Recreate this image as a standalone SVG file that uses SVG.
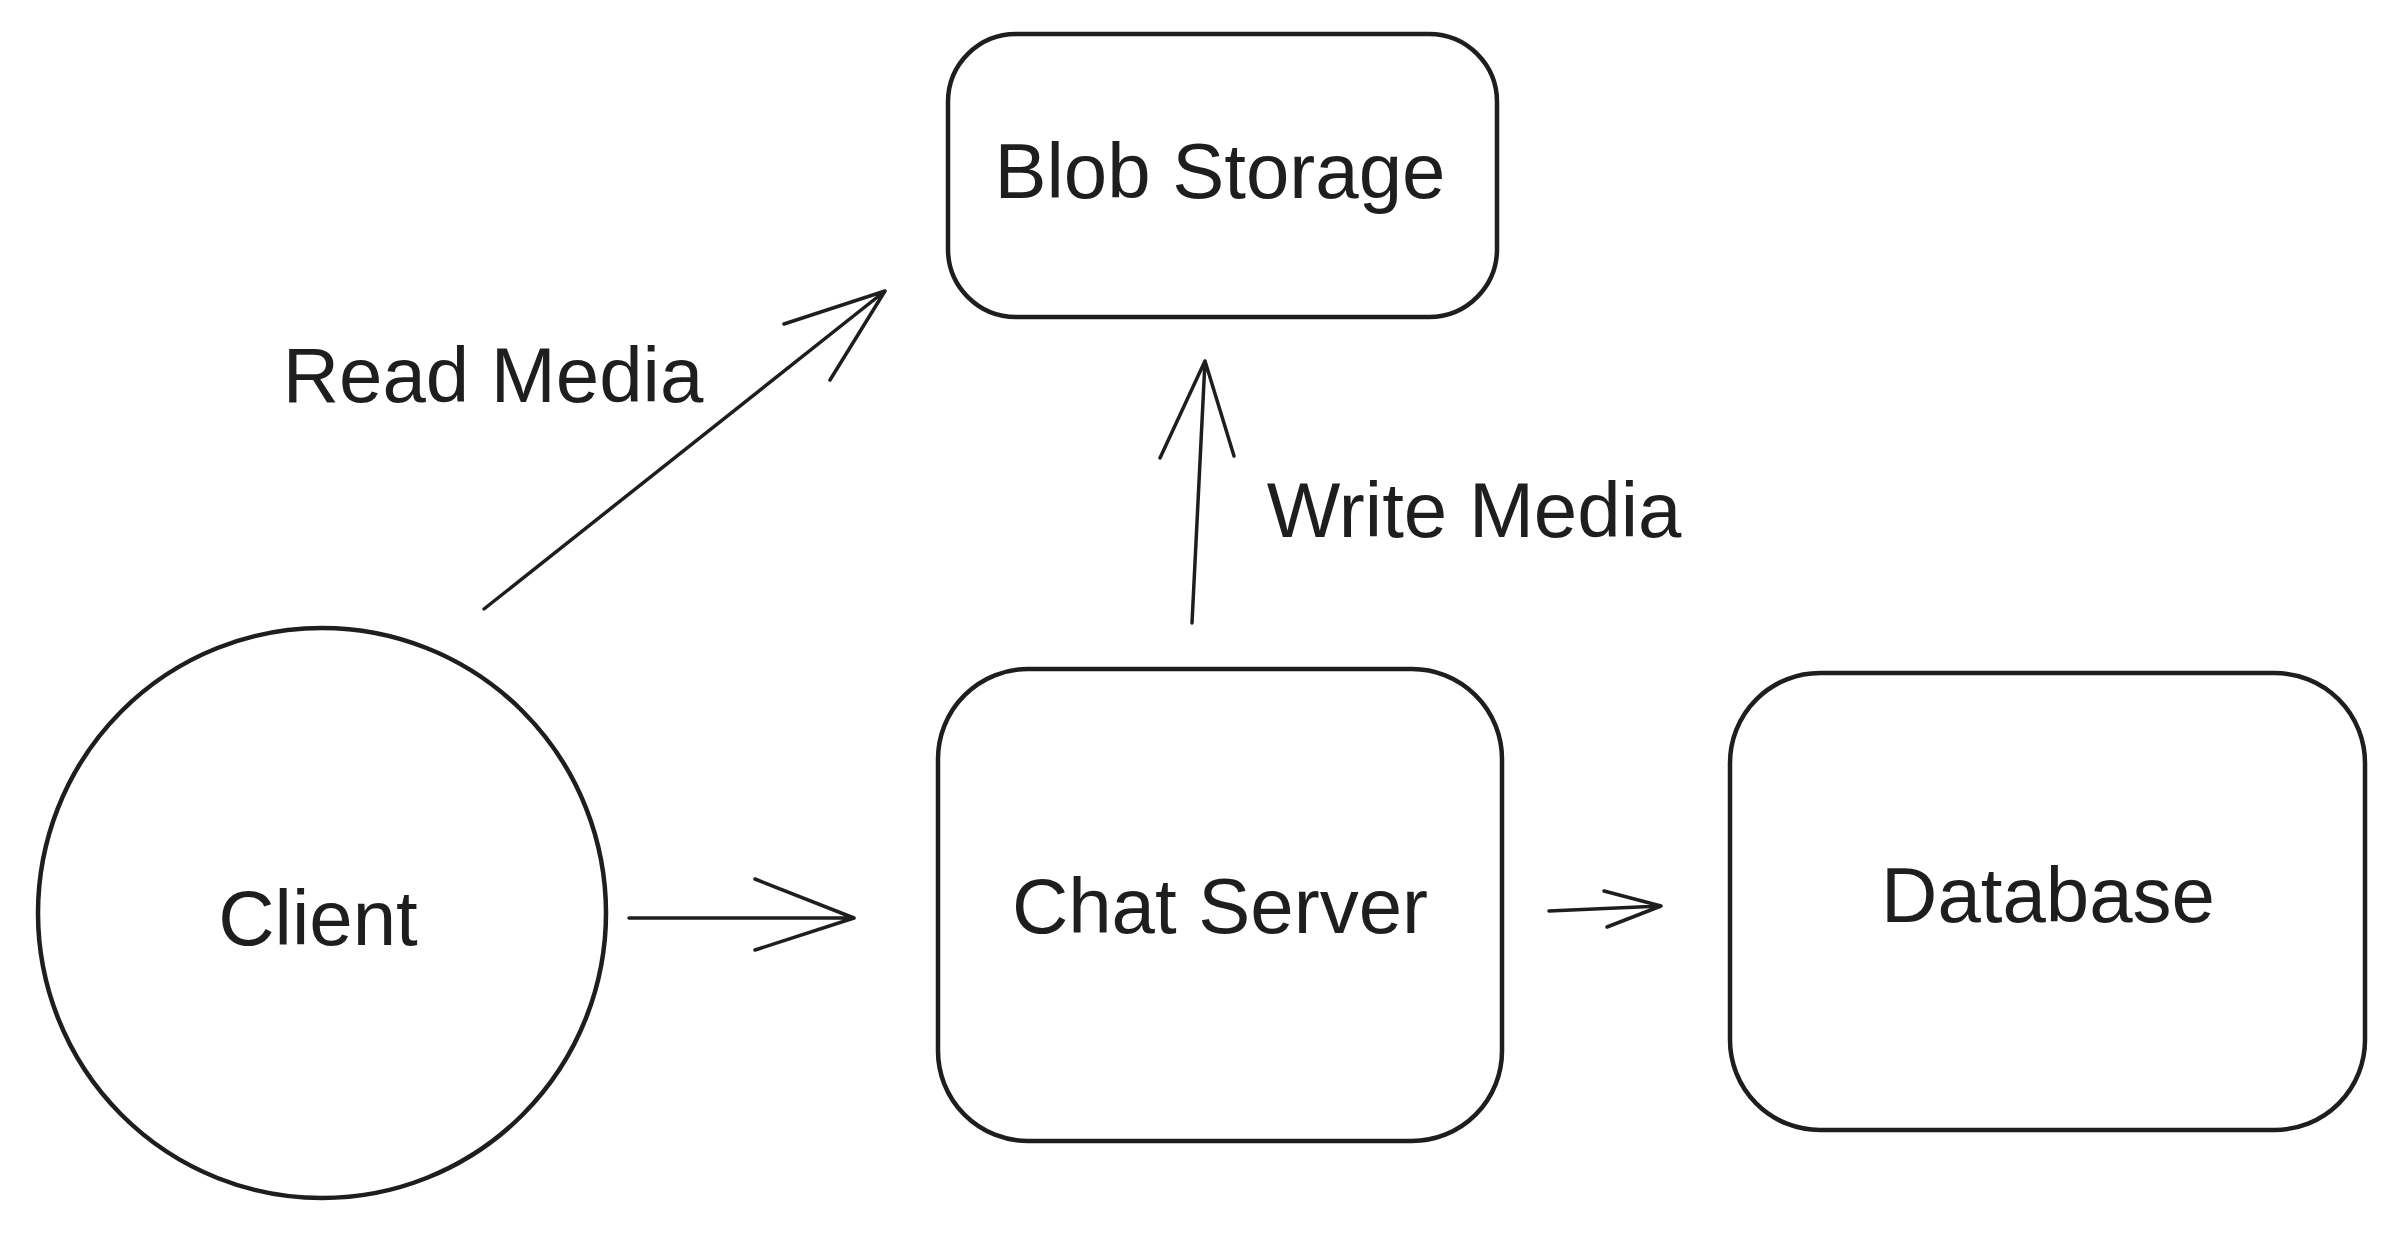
<svg xmlns="http://www.w3.org/2000/svg" width="2400" height="1242" viewBox="0 0 2400 1242">
<style>
.shape{fill:none;stroke:#1e1e1e;stroke-width:4.5;stroke-linecap:round;stroke-linejoin:round}
.conn{fill:none;stroke:#1e1e1e;stroke-width:3.5;stroke-linecap:round;stroke-linejoin:round}
.lbl{font-family:"Liberation Sans",Arial,sans-serif;font-size:78px;fill:#1e1e1e;text-anchor:middle;dominant-baseline:central}
</style>
<rect x="0" y="0" width="2400" height="1242" fill="#ffffff"/>
<g id="blob-storage">
<rect class="shape" x="948" y="34" width="549" height="283" rx="68"/>
<text class="lbl" x="1220" y="171">Blob Storage</text>
</g>
<g id="client">
<ellipse class="shape" cx="322" cy="913" rx="284" ry="285"/>
<text class="lbl" x="318" y="918">Client</text>
</g>
<g id="chat-server">
<rect class="shape" x="938" y="669" width="564" height="472" rx="90"/>
<text class="lbl" x="1220" y="906">Chat Server</text>
</g>
<g id="database">
<rect class="shape" x="1730" y="673" width="635" height="457" rx="90"/>
<text class="lbl" x="2048" y="895">Database</text>
</g>
<g id="connectors">
<path class="conn" d="M484 609 L885 291 M885 291 L784 324 M885 291 L830 380"/>
<path class="conn" d="M1192 623 L1205 361 M1205 361 L1160 458 M1205 361 L1234 456"/>
<path class="conn" d="M629 918 L854 918 M854 918 L755 879 M854 918 L755 950"/>
<path class="conn" d="M1549 911 L1661 906 M1661 906 L1604 891 M1661 906 L1607 927"/>
<text class="lbl" x="493" y="375">Read Media</text>
<text class="lbl" x="1474" y="510">Write Media</text>
</g>
</svg>
